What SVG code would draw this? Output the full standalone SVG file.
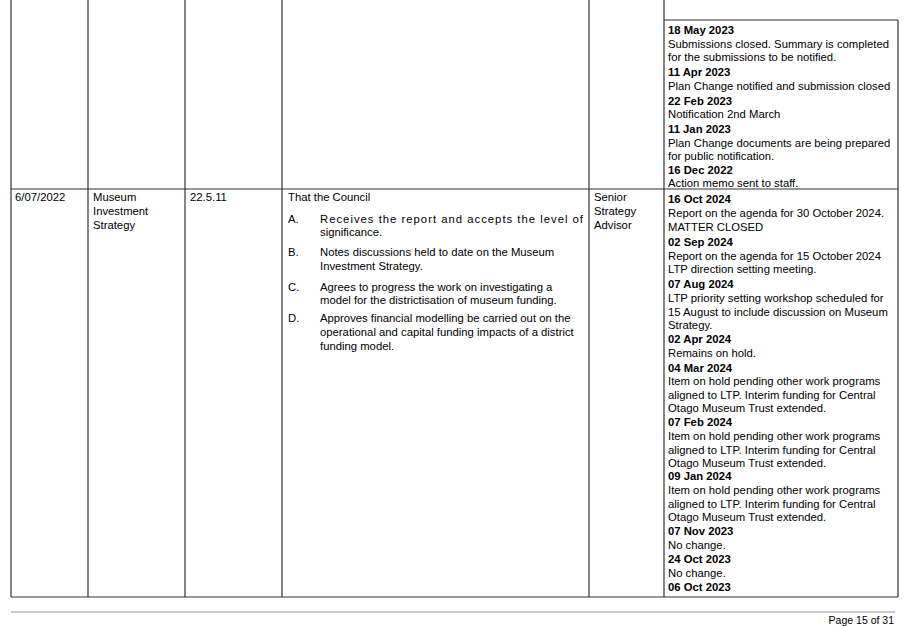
<svg xmlns="http://www.w3.org/2000/svg" width="907" height="626" viewBox="0 0 907 626">
<style>
text{font-family:"Liberation Sans",Arial,sans-serif;font-size:11.3px;fill:#000}
.b{font-weight:bold}
.g line{stroke:#333;stroke-width:1.2}
</style>
<rect width="907" height="626" fill="#fff"/>
<g class="g" id="grid">
<line x1="664" y1="20" x2="898" y2="20"/>
<line x1="11" y1="0" x2="11" y2="597"/>
<line x1="88" y1="0" x2="88" y2="597"/>
<line x1="185" y1="0" x2="185" y2="597"/>
<line x1="282" y1="0" x2="282" y2="597"/>
<line x1="589" y1="0" x2="589" y2="597"/>
<line x1="664" y1="0" x2="664" y2="597"/>
<line x1="898" y1="20" x2="898" y2="597"/>
<line x1="11" y1="189" x2="898" y2="189"/>
<line x1="11" y1="597" x2="898" y2="597"/>
</g>
<line x1="11" y1="612" x2="895" y2="612" stroke="#999" stroke-width="1"/>
<text x="894" y="624" text-anchor="end" style="font-size:10.5px">Page 15 of 31</text>
<g id="row1">
<text x="668" y="34" class="b">18 May 2023</text>
<text x="668" y="48">Submissions closed. Summary is completed</text>
<text x="668" y="61">for the submissions to be notified.</text>
<text x="668" y="76" class="b">11 Apr 2023</text>
<text x="668" y="90">Plan Change notified and submission closed</text>
<text x="668" y="105" class="b">22 Feb 2023</text>
<text x="668" y="118">Notification 2nd March</text>
<text x="668" y="133" class="b">11 Jan 2023</text>
<text x="668" y="147">Plan Change documents are being prepared</text>
<text x="668" y="160">for public notification.</text>
<text x="668" y="174" class="b">16 Dec 2022</text>
<text x="668" y="187">Action memo sent to staff.</text>
</g>
<g id="row2">
<text x="15" y="201">6/07/2022</text>
<text x="93" y="201">Museum</text>
<text x="93" y="215">Investment</text>
<text x="93" y="229">Strategy</text>
<text x="190" y="201">22.5.11</text>
<text x="288" y="201">That the Council</text>
<text x="288" y="223">A.</text>
<text x="320" y="223" textLength="263" lengthAdjust="spacing">Receives the report and accepts the level of</text>
<text x="320" y="236">significance.</text>
<text x="288" y="256">B.</text>
<text x="320" y="256">Notes discussions held to date on the Museum</text>
<text x="320" y="270">Investment Strategy.</text>
<text x="288" y="291">C.</text>
<text x="320" y="291">Agrees to progress the work on investigating a</text>
<text x="320" y="304">model for the districtisation of museum funding.</text>
<text x="288" y="322">D.</text>
<text x="320" y="322">Approves financial modelling be carried out on the</text>
<text x="320" y="336">operational and capital funding impacts of a district</text>
<text x="320" y="350">funding model.</text>
<text x="594" y="201">Senior</text>
<text x="594" y="215">Strategy</text>
<text x="594" y="229">Advisor</text>
<text x="668" y="203" class="b">16 Oct 2024</text>
<text x="668" y="217">Report on the agenda for 30 October 2024.</text>
<text x="668" y="231">MATTER CLOSED</text>
<text x="668" y="246" class="b">02 Sep 2024</text>
<text x="668" y="260">Report on the agenda for 15 October 2024</text>
<text x="668" y="273">LTP direction setting meeting.</text>
<text x="668" y="288" class="b">07 Aug 2024</text>
<text x="668" y="302">LTP priority setting workshop scheduled for</text>
<text x="668" y="316">15 August to include discussion on Museum</text>
<text x="668" y="329">Strategy.</text>
<text x="668" y="343" class="b">02 Apr 2024</text>
<text x="668" y="357">Remains on hold.</text>
<text x="668" y="372" class="b">04 Mar 2024</text>
<text x="668" y="385">Item on hold pending other work programs</text>
<text x="668" y="399">aligned to LTP. Interim funding for Central</text>
<text x="668" y="412">Otago Museum Trust extended.</text>
<text x="668" y="426" class="b">07 Feb 2024</text>
<text x="668" y="440">Item on hold pending other work programs</text>
<text x="668" y="454">aligned to LTP. Interim funding for Central</text>
<text x="668" y="467">Otago Museum Trust extended.</text>
<text x="668" y="480" class="b">09 Jan 2024</text>
<text x="668" y="494">Item on hold pending other work programs</text>
<text x="668" y="508">aligned to LTP. Interim funding for Central</text>
<text x="668" y="521">Otago Museum Trust extended.</text>
<text x="668" y="535" class="b">07 Nov 2023</text>
<text x="668" y="549">No change.</text>
<text x="668" y="563" class="b">24 Oct 2023</text>
<text x="668" y="577">No change.</text>
<text x="668" y="591" class="b">06 Oct 2023</text>
</g>
</svg>
